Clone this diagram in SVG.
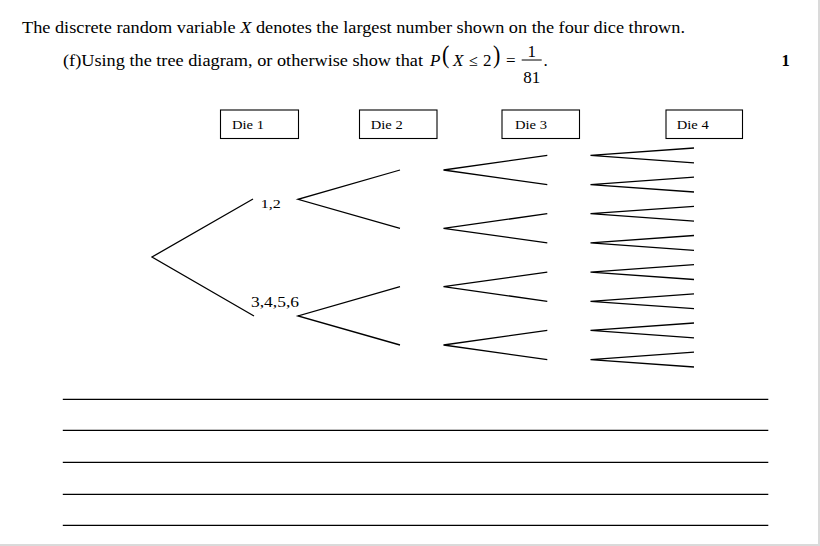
<svg xmlns="http://www.w3.org/2000/svg" width="820" height="546" viewBox="0 0 820 546">
<style>
.t{fill:#000}
.box{fill:#fff;stroke:#000;stroke-width:1.1}
.br{fill:none;stroke:#000;stroke-width:1.3;stroke-linejoin:miter}
.rule{stroke:#000;stroke-width:1.3}
</style>
<rect x="0" y="0" width="820" height="546" fill="#fff"/>
<line x1="819" y1="0" x2="819" y2="546" stroke="#dadada" stroke-width="2"/>
<line x1="0" y1="545" x2="820" y2="545" stroke="#dadada" stroke-width="2"/>

<g font-family="'Liberation Serif', 'Times New Roman', 'DejaVu Serif', serif">
<g id="question">
<text class="t" x="22" y="32.6" font-size="16.6" textLength="663" lengthAdjust="spacingAndGlyphs">The discrete random variable <tspan font-style="italic">X</tspan> denotes the largest number shown on the four dice thrown.</text>
<text class="t" x="63" y="66" font-size="16.6" textLength="360" lengthAdjust="spacingAndGlyphs">(f)Using the tree diagram, or otherwise show that</text>
<text class="t" x="430" y="66" font-size="17" font-style="italic">P</text>
<text class="t" x="442" y="63.5" font-size="26" transform="translate(442 63.5) scale(0.85 1) translate(-442 -63.5)">(</text>
<text class="t" x="453" y="66" font-size="17" font-style="italic">X</text>
<text class="t" x="469" y="66" font-size="16">≤</text>
<text class="t" x="483" y="66" font-size="17">2</text>
<text class="t" x="493" y="63.5" font-size="26" transform="translate(493 63.5) scale(0.85 1) translate(-493 -63.5)">)</text>
<text class="t" x="506" y="66" font-size="17">=</text>
<text class="t" x="531.8" y="57" font-size="17" text-anchor="middle">1</text>
<line x1="521.7" y1="60" x2="541.7" y2="60" stroke="#000" stroke-width="1"/>
<text class="t" x="531.8" y="83" font-size="17" text-anchor="middle">81</text>
<text class="t" x="543.5" y="66" font-size="17">.</text>
<text class="t" x="781.5" y="65.7" font-size="16.6" font-weight="bold">1</text>
</g>

<g id="die1"><rect class="box" x="220.5" y="110" width="78" height="28.5"/><text class="t" x="232" y="129.3" font-size="13" textLength="32" lengthAdjust="spacingAndGlyphs">Die 1</text></g>
<g id="die2"><rect class="box" x="359.5" y="110" width="77.5" height="28.5"/><text class="t" x="370.7" y="129.3" font-size="13" textLength="32" lengthAdjust="spacingAndGlyphs">Die 2</text></g>
<g id="die3"><rect class="box" x="502" y="110" width="77.5" height="28.5"/><text class="t" x="515" y="129.3" font-size="13" textLength="32" lengthAdjust="spacingAndGlyphs">Die 3</text></g>
<g id="die4"><rect class="box" x="666" y="110" width="76.5" height="28.5"/><text class="t" x="676.7" y="129.3" font-size="13" textLength="32" lengthAdjust="spacingAndGlyphs">Die 4</text></g>

<g id="label-12"><text class="t" x="260.7" y="208.3" font-size="13.5" textLength="20" lengthAdjust="spacingAndGlyphs">1,2</text></g>
<g id="label-3456"><text class="t" x="251" y="307.3" font-size="14" textLength="48" lengthAdjust="spacingAndGlyphs">3,4,5,6</text></g>
</g>

<g id="connectors">
<polyline class="br" points="253,199 152,257 254,316"/>
<polyline class="br" points="400,170 298,199.3 400,228.3"/>
<polyline class="br" points="400,286.7 298,316 400,345"/>
<polyline class="br" points="547.3,155.4 443.5,170 547.3,184.6"/>
<polyline class="br" points="547.3,213.7 443.5,228.3 547.3,242.9"/>
<polyline class="br" points="547.3,272.1 443.5,286.7 547.3,301.3"/>
<polyline class="br" points="547.3,330.4 443.5,345 547.3,359.6"/>
<polyline class="br" points="694,148 590.5,155.4 694,162.8"/>
<polyline class="br" points="694,177.2 590.5,184.6 694,192"/>
<polyline class="br" points="694,206.3 590.5,213.7 694,221.1"/>
<polyline class="br" points="694,235.5 590.5,242.9 694,250.3"/>
<polyline class="br" points="694,264.7 590.5,272.1 694,279.5"/>
<polyline class="br" points="694,293.9 590.5,301.3 694,308.7"/>
<polyline class="br" points="694,323 590.5,330.4 694,337.8"/>
<polyline class="br" points="694,352.2 590.5,359.6 694,367"/>
</g>

<g id="answer-lines">
<line class="rule" x1="62.8" y1="399.3" x2="768.3" y2="399.3"/>
<line class="rule" x1="62.8" y1="430.3" x2="768.3" y2="430.3"/>
<line class="rule" x1="62.8" y1="462.3" x2="768.3" y2="462.3"/>
<line class="rule" x1="62.8" y1="494.3" x2="768.3" y2="494.3"/>
<line class="rule" x1="62.8" y1="525.3" x2="768.3" y2="525.3"/>
</g>
</svg>
